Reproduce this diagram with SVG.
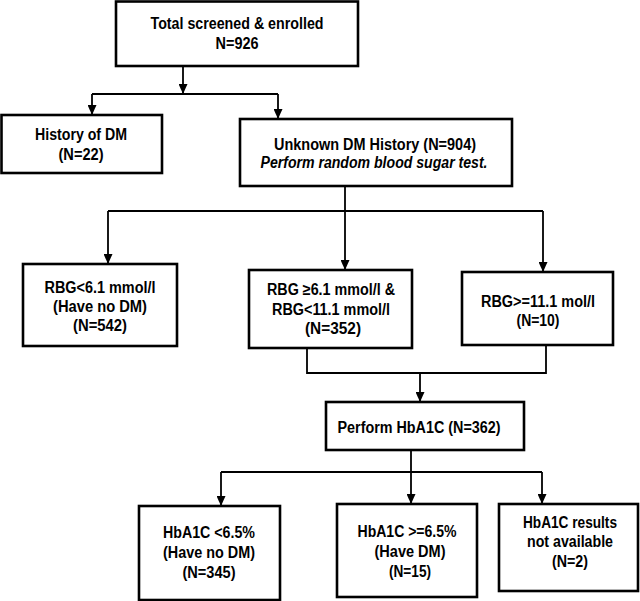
<svg xmlns="http://www.w3.org/2000/svg" width="640" height="601" viewBox="0 0 640 601">
<defs>
<style>
.box{fill:#fff;stroke:#000;stroke-width:2.6}
.ln{fill:none;stroke:#000;stroke-width:1.8}
text{font-family:"Liberation Sans",Arial,sans-serif;font-size:16px;font-weight:bold;fill:#000;text-anchor:middle}
.it{font-style:italic}
</style>
<marker id="ah" viewBox="0 0 10 9" refX="10" refY="4.5" markerWidth="10" markerHeight="9" markerUnits="userSpaceOnUse" orient="auto">
<path d="M0,0 L10,4.5 L0,9 z" fill="#000"/>
</marker>
</defs>
<rect width="640" height="601" fill="#fff"/>
<g id="connectors">
<path class="ln" d="M183,66 V94" marker-end="url(#ah)"/>
<path class="ln" d="M92,94 H278"/>
<path class="ln" d="M92,94 V115" marker-end="url(#ah)"/>
<path class="ln" d="M278,94 V119" marker-end="url(#ah)"/>
<path class="ln" d="M345,186 V270" marker-end="url(#ah)"/>
<path class="ln" d="M108,211 H543"/>
<path class="ln" d="M108,211 V264" marker-end="url(#ah)"/>
<path class="ln" d="M543,211 V272" marker-end="url(#ah)"/>
<path class="ln" d="M307,348 V373 H546 V345"/>
<path class="ln" d="M420,373 V402" marker-end="url(#ah)"/>
<path class="ln" d="M411,450 V504" marker-end="url(#ah)"/>
<path class="ln" d="M221,472 H542"/>
<path class="ln" d="M221,472 V506" marker-end="url(#ah)"/>
<path class="ln" d="M542,472 V504" marker-end="url(#ah)"/>
</g>
<g id="n1">
<rect class="box" x="116" y="1.5" width="242" height="64.5"/>
<text x="237" y="29" textLength="173" lengthAdjust="spacingAndGlyphs">Total screened &amp; enrolled</text>
<text x="237" y="49" textLength="43" lengthAdjust="spacingAndGlyphs">N=926</text>
</g>
<g id="n2">
<rect class="box" x="1.5" y="115" width="160.5" height="58"/>
<text x="81" y="140" textLength="92" lengthAdjust="spacingAndGlyphs">History of DM</text>
<text x="81" y="160" textLength="45" lengthAdjust="spacingAndGlyphs">(N=22)</text>
</g>
<g id="n3">
<rect class="box" x="240" y="119" width="272" height="67"/>
<text x="375" y="150" textLength="202" lengthAdjust="spacingAndGlyphs">Unknown DM History (N=904)</text>
<text class="it" x="374" y="168" textLength="227" lengthAdjust="spacingAndGlyphs">Perform random blood sugar test.</text>
</g>
<g id="n4">
<rect class="box" x="23" y="264" width="154" height="82"/>
<text x="100" y="293" textLength="111" lengthAdjust="spacingAndGlyphs">RBG&lt;6.1 mmol/l</text>
<text x="100" y="312" textLength="94" lengthAdjust="spacingAndGlyphs">(Have no DM)</text>
<text x="100" y="331" textLength="54" lengthAdjust="spacingAndGlyphs">(N=542)</text>
</g>
<g id="n5">
<rect class="box" x="249" y="270" width="163" height="78"/>
<text x="331" y="295" textLength="128" lengthAdjust="spacingAndGlyphs">RBG ≥6.1 mmol/l &amp;</text>
<text x="331" y="315" textLength="118" lengthAdjust="spacingAndGlyphs">RBG&lt;11.1 mmol/l</text>
<text x="333" y="334" textLength="56" lengthAdjust="spacingAndGlyphs">(N=352)</text>
</g>
<g id="n6">
<rect class="box" x="462" y="272" width="151" height="73"/>
<text x="538" y="307" textLength="114" lengthAdjust="spacingAndGlyphs">RBG&gt;=11.1 mol/l</text>
<text x="538" y="326" textLength="43" lengthAdjust="spacingAndGlyphs">(N=10)</text>
</g>
<g id="n7">
<rect class="box" x="326" y="402" width="198" height="48"/>
<text x="419" y="433" textLength="163" lengthAdjust="spacingAndGlyphs">Perform HbA1C (N=362)</text>
</g>
<g id="n8">
<rect class="box" x="139" y="506" width="141" height="94"/>
<text x="209" y="538" textLength="92" lengthAdjust="spacingAndGlyphs">HbA1C &lt;6.5%</text>
<text x="209" y="558" textLength="92" lengthAdjust="spacingAndGlyphs">(Have no DM)</text>
<text x="209" y="578" textLength="53" lengthAdjust="spacingAndGlyphs">(N=345)</text>
</g>
<g id="n9">
<rect class="box" x="337" y="504" width="140" height="93"/>
<text x="407" y="537" textLength="99" lengthAdjust="spacingAndGlyphs">HbA1C &gt;=6.5%</text>
<text x="410" y="557" textLength="71" lengthAdjust="spacingAndGlyphs">(Have DM)</text>
<text x="410" y="577" textLength="42" lengthAdjust="spacingAndGlyphs">(N=15)</text>
</g>
<g id="n10">
<rect class="box" x="499" y="504" width="139" height="87"/>
<text x="570" y="528" textLength="94" lengthAdjust="spacingAndGlyphs">HbA1C results</text>
<text x="570" y="547" textLength="86" lengthAdjust="spacingAndGlyphs">not available</text>
<text x="570" y="567" textLength="36" lengthAdjust="spacingAndGlyphs">(N=2)</text>
</g>
</svg>
